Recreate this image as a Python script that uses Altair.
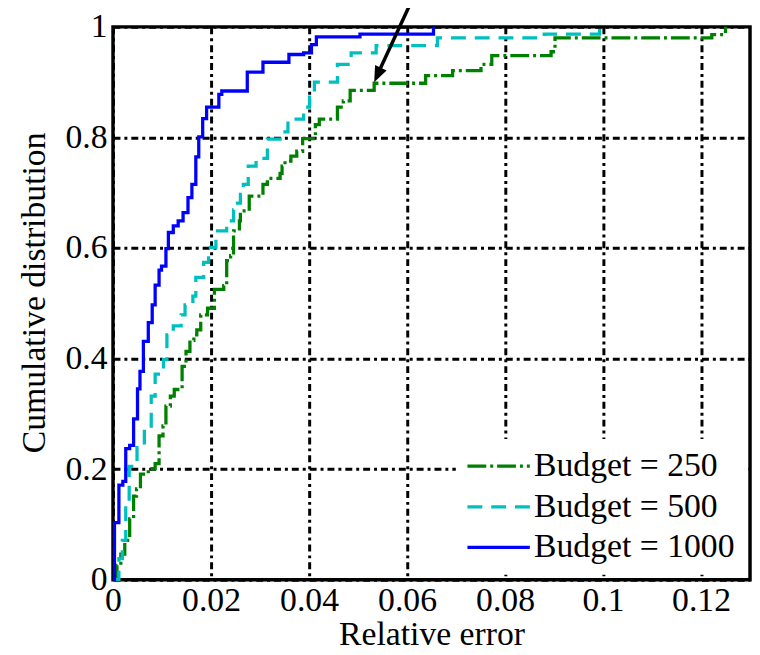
import altair as alt
import pandas as pd

series_names = ["Budget = 250", "Budget = 500", "Budget = 1000"]
series_colors = ["#008000", "#00bfbf", "#0000ff"]
series_dashes = [[19, 4, 3, 4], [15, 9], [1, 0]]

b250_x = [0, 0.0008, 0.0016, 0.0024, 0.0034, 0.0042, 0.0048, 0.0056, 0.0072, 0.0086,
          0.0094, 0.0102, 0.0108, 0.0117, 0.0125, 0.0141, 0.0149, 0.0157, 0.0165, 0.0171,
          0.0179, 0.0193, 0.0207, 0.0226, 0.0232, 0.024, 0.0246, 0.0258, 0.026, 0.0278,
          0.0306, 0.0315, 0.0341, 0.0345, 0.0351, 0.0363, 0.0375, 0.0387, 0.0413, 0.0421,
          0.0458, 0.047, 0.0484, 0.0533, 0.0638, 0.0693, 0.0751, 0.0773, 0.0894, 0.0902,
          0.1222, 0.125]
b250_y = [0, 0.026, 0.046, 0.071, 0.11, 0.151, 0.164, 0.191, 0.201, 0.21,
          0.26, 0.278, 0.314, 0.332, 0.344, 0.386, 0.413, 0.433, 0.443, 0.452,
          0.479, 0.491, 0.525, 0.532, 0.577, 0.586, 0.631, 0.649, 0.667, 0.694,
          0.715, 0.726, 0.735, 0.748, 0.757, 0.766, 0.775, 0.798, 0.823, 0.833,
          0.855, 0.866, 0.885, 0.898, 0.912, 0.921, 0.932, 0.948, 0.955, 0.98,
          0.986, 1.0]

b500_x = [0, 0.0012, 0.0019, 0.0026, 0.0033, 0.0049, 0.0064, 0.0078, 0.0086, 0.0103,
          0.011, 0.0123, 0.0139, 0.0147, 0.0163, 0.0169, 0.0185, 0.0195, 0.021, 0.0232,
          0.0246, 0.0254, 0.026, 0.0266, 0.0276, 0.0292, 0.0315, 0.0351, 0.0357, 0.0389,
          0.0401, 0.0411, 0.0458, 0.0486, 0.0537, 0.0662, 0.088, 0.0993]
b500_y = [0, 0.038, 0.071, 0.13, 0.205, 0.239, 0.273, 0.332, 0.372, 0.398,
          0.443, 0.459, 0.479, 0.497, 0.513, 0.547, 0.574, 0.601, 0.631, 0.649,
          0.669, 0.681, 0.697, 0.715, 0.748, 0.762, 0.797, 0.81, 0.833, 0.855,
          0.878, 0.9, 0.932, 0.953, 0.966, 0.98, 0.987, 1.0]

b1000_x = [0, 0.0003, 0.0012, 0.002, 0.0026, 0.0034, 0.0042, 0.005, 0.0055, 0.0062,
           0.0072, 0.008, 0.0086, 0.0094, 0.0099, 0.0108, 0.0113, 0.0123, 0.0133, 0.0143,
           0.0153, 0.0161, 0.0169, 0.0175, 0.0183, 0.0191, 0.0216, 0.0222, 0.0274, 0.0306,
           0.0359, 0.0389, 0.0405, 0.0415, 0.0504, 0.0654]
b1000_y = [0, 0.103, 0.171, 0.178, 0.237, 0.243, 0.291, 0.345, 0.377, 0.431,
           0.465, 0.497, 0.533, 0.56, 0.567, 0.599, 0.628, 0.64, 0.649, 0.664,
           0.691, 0.715, 0.765, 0.801, 0.834, 0.855, 0.878, 0.884, 0.918, 0.936,
           0.95, 0.953, 0.968, 0.982, 0.987, 1.0]

x_ticks = [0, 0.02, 0.04, 0.06, 0.08, 0.1, 0.12]
y_ticks = [0, 0.2, 0.4, 0.6, 0.8, 1]

# annotation arrow (line start/end, head tip) in data units
arrow_x = [0.0611, 0.0541]
arrow_y = [1.050, 0.916]
head_x = [0.0533]
head_y = [0.900]

rows = []
for name, xs, ys in zip(series_names, [b250_x, b500_x, b1000_x], [b250_y, b500_y, b1000_y]):
    for i, (xv, yv) in enumerate(zip(xs, ys)):
        rows.append({"series": name, "x": xv, "y": yv, "order": i})
df = pd.DataFrame(rows)

FONT = "Liberation Serif"

x_scale = alt.Scale(domain=[0, 0.13], nice=False, zero=False)
y_scale = alt.Scale(domain=[0, 1], nice=False, zero=False)
x_axis = alt.Axis(values=x_ticks, format="~g", title="Relative error",
                  labelPadding=4, labelFlush=False, labelOverlap=False,
                  titleY=65, titleBaseline="alphabetic")
y_axis = alt.Axis(values=y_ticks, format="~g", title="Cumulative distribution",
                  labelPadding=6, labelFlush=False, labelOverlap=False,
                  titleX=-79, titleY=268, titleAngle=270, titleAlign="center",
                  titleBaseline="middle")

legend = alt.Legend(title=None, orient="none", legendX=346, legendY=416,
                    fillColor="white", padding=10, symbolType="M-1,0L3,0",
                    symbolSize=992, symbolStrokeWidth=3.3, labelFont=FONT,
                    labelFontSize=34, labelColor="black", labelOffset=34,
                    rowPadding=6, labelLimit=400)

lines = alt.Chart(df).mark_line(interpolate="step-after", strokeWidth=3.3).encode(
    x=alt.X("x:Q", scale=x_scale, axis=x_axis, title="Relative error"),
    y=alt.Y("y:Q", scale=y_scale, axis=y_axis, title="Cumulative distribution"),
    color=alt.Color("series:N", scale=alt.Scale(domain=series_names, range=series_colors),
                    legend=legend, title=None),
    strokeDash=alt.StrokeDash("series:N", scale=alt.Scale(domain=series_names, range=series_dashes),
                              legend=legend, title=None),
    order="order:Q",
)

arrow_df = pd.DataFrame({"x": [arrow_x[0]], "y": [arrow_y[0]], "x2": [arrow_x[1]], "y2": [arrow_y[1]]})
rule = alt.Chart(arrow_df).mark_rule(color="black", strokeWidth=3.5).encode(
    x=alt.X("x:Q", scale=x_scale, title="Relative error"),
    y=alt.Y("y:Q", scale=y_scale, title="Cumulative distribution"),
    x2="x2:Q",
    y2="y2:Q",
)

head_df = pd.DataFrame({"x": head_x, "y": head_y})
head = alt.Chart(head_df).mark_point(shape="M0,0L-0.4,1L0.4,1Z", filled=True, size=1024,
                                     angle=204.8, color="black", opacity=1).encode(
    x=alt.X("x:Q", scale=x_scale, title="Relative error"),
    y=alt.Y("y:Q", scale=y_scale, title="Cumulative distribution"),
)

chart = alt.layer(lines, rule, head).properties(
    width=643, height=558,
    autosize=alt.AutoSizeParams(type="none"),
    padding={"left": 106, "top": 16, "right": 2, "bottom": 73},
).configure_view(
    stroke="black", strokeWidth=3.5
).configure_axis(
    labelFont=FONT, labelFontSize=34, labelColor="black",
    titleFont=FONT, titleFontSize=34, titleColor="black", titleFontWeight="normal",
    grid=True, gridColor="black", gridDash=[7, 4, 3, 4], gridWidth=3, gridOpacity=1,
    ticks=False, domain=False,
)

chart.save("out.html", embed_options={"renderer": "svg", "actions": False})
